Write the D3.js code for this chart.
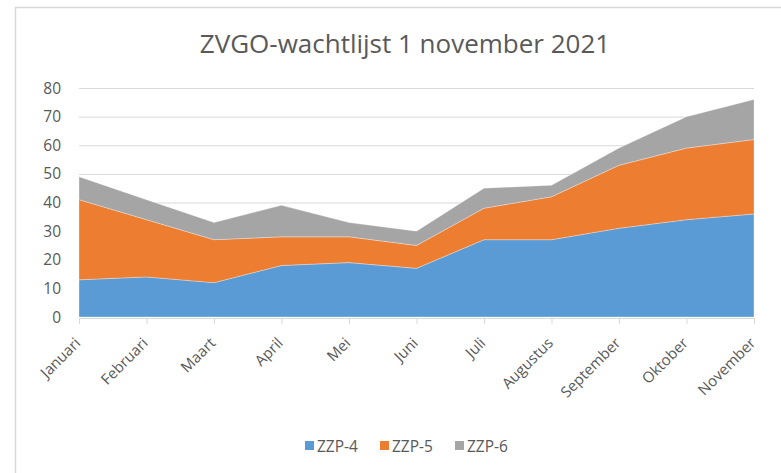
<!DOCTYPE html>
<html>
<head>
<meta charset="utf-8">
<script src="https://cdn.jsdelivr.net/npm/d3@7"></script>
<style>
  body { margin: 0; background: #fff; }
  text { font-family: "Open Sans", "Liberation Sans", sans-serif; fill: #595959; }
</style>
</head>
<body>
<svg id="chart" width="781" height="473"></svg>
<script>
// data
var months = ["Januari", "Februari", "Maart", "April", "Mei", "Juni", "Juli",
    "Augustus", "September", "Oktober", "November"];
var zzp4 = [13, 14, 12, 18, 19, 17, 27, 27, 31, 34, 36];
var zzp5 = [28, 20, 15, 10, 9, 8, 11, 15, 22, 25, 26];
var zzp6 = [8, 7, 6, 11, 5, 5, 7, 4, 6, 11, 14];
var yTicks = [0, 10, 20, 30, 40, 50, 60, 70, 80];

var seriesNames = ["ZZP-4", "ZZP-5", "ZZP-6"];
var colors = ["#5b9bd5", "#ed7d31", "#a5a5a5"];

var rows = months.map(function(m, i) {
    return { month: m, "ZZP-4": zzp4[i], "ZZP-5": zzp5[i], "ZZP-6": zzp6[i] };
});

var svg = d3.select("#chart");

// chart border
svg.append("rect")
    .attr("x", 15.5).attr("y", 7.5)
    .attr("width", 800).attr("height", 500)
    .attr("fill", "none")
    .attr("stroke", "#d9d9d9")
    .attr("stroke-width", 1.5);

var x = d3.scalePoint()
    .domain(months)
    .range([79, 754]);

var y = d3.scaleLinear()
    .domain([0, 80])
    .range([317, 88]);

// gridlines
svg.append("g")
    .selectAll("line")
    .data(yTicks.slice(1))
    .enter().append("line")
    .attr("x1", 79).attr("x2", 754)
    .attr("y1", function(d) { return y(d) + 0.5; })
    .attr("y2", function(d) { return y(d) + 0.5; })
    .attr("stroke", "#d9d9d9");

var stackedData = d3.stack().keys(seriesNames)(rows);

var area = d3.area()
    .x(function(d) { return x(d.data.month); })
    .y0(function(d) { return y(d[0]); })
    .y1(function(d) { return y(d[1]); });

svg.append("g")
    .selectAll("path")
    .data(stackedData)
    .enter().append("path")
    .attr("d", area)
    .attr("fill", function(d, i) { return colors[i]; })
    .attr("stroke", "#fff")
    .attr("stroke-width", 0.6)
    .attr("stroke-opacity", 0.5);

// y axis labels
svg.append("g")
    .selectAll("text")
    .data(yTicks)
    .enter().append("text")
    .attr("x", 61)
    .attr("y", function(d) { return y(d); })
    .attr("dy", "0.36em")
    .attr("text-anchor", "end")
    .style("font-size", "15.5px")
    .text(function(d) { return d; });

// x axis
var xAxis = svg.append("g")
    .attr("transform", "translate(0," + 318 + ")")
    .call(d3.axisBottom(x).tickSize(6).tickSizeOuter(0));
xAxis.select(".domain").attr("stroke", "#d9d9d9");
xAxis.selectAll(".tick line").attr("stroke", "#d9d9d9");
xAxis.selectAll(".tick text")
    .attr("y", 0).attr("dy", 0)
    .attr("transform", "translate(2,26) rotate(-45)")
    .attr("text-anchor", "end")
    .style("font-size", "15px")
    .style("font-family", "'Open Sans', sans-serif")
    .style("fill", "#595959");

// title
svg.append("text")
    .attr("x", 405)
    .attr("y", 53)
    .attr("text-anchor", "middle")
    .style("font-size", "26px")
    .text("ZVGO-wachtlijst 1 november 2021");

// legend
var legendX = [305, 380, 455];
var legend = svg.append("g")
    .selectAll("g")
    .data(seriesNames)
    .enter().append("g")
    .attr("transform", function(d, i) { return "translate(" + legendX[i] + ",441)"; });
legend.append("rect")
    .attr("width", 9).attr("height", 9)
    .attr("y", 0)
    .attr("fill", function(d, i) { return colors[i]; });
legend.append("text")
    .attr("x", 12)
    .attr("y", 5)
    .attr("dy", "0.36em")
    .style("font-size", "15.5px")
    .text(function(d) { return d; });
</script>
</body>
</html>
